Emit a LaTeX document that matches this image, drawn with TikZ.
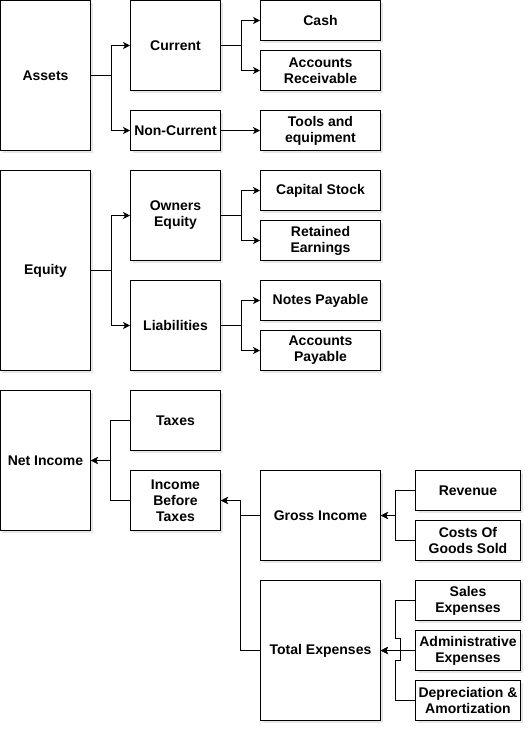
\documentclass[tikz,border=0pt]{standalone}
\usepackage{fontspec}
\setmainfont{Liberation Sans}
\usetikzlibrary{arrows.meta,shadows,positioning,calc}

\begin{document}
\begin{tikzpicture}[x=1pt,y=-1pt,
    box/.style={draw,line width=1pt,fill=white,align=center,inner sep=1pt,
        font=\fontsize{14}{16}\selectfont\bfseries,
        drop shadow={shadow xshift=2pt,shadow yshift=-2pt,opacity=0.2}},
    arr/.style={line width=1pt,-{Stealth[length=7pt,width=7pt,inset=2pt]}}]
            \useasboundingbox (-0.5,-0.5) rectangle (531.5,731.5);
            % assets
            \node[box,minimum width=90pt,minimum height=150pt] (assets) at (45,75) {Assets};
            \node[box,minimum width=90pt,minimum height=90pt] (current) at (175,45) {Current};
            \node[box,minimum width=90pt,minimum height=40pt] (noncur) at (175,130) {Non-Current};
            \node[box,minimum width=120pt,minimum height=40pt] (cash) at (320,20) {Cash};
            \node[box,minimum width=120pt,minimum height=40pt] (accrec) at (320,70) {Accounts\\Receivable};
            \node[box,minimum width=120pt,minimum height=40pt] (tools) at (320,130) {Tools and\\equipment};
            % equity
            \node[box,minimum width=90pt,minimum height=200pt] (equity) at (45,270) {Equity};
            \node[box,minimum width=90pt,minimum height=90pt] (owneq) at (175,215) {Owners\\Equity};
            \node[box,minimum width=90pt,minimum height=90pt] (liab) at (175,325) {Liabilities};
            \node[box,minimum width=120pt,minimum height=40pt] (capstock) at (320,190) {Capital Stock};
            \node[box,minimum width=120pt,minimum height=40pt] (retearn) at (320,240) {Retained\\Earnings};
            \node[box,minimum width=120pt,minimum height=40pt] (notespay) at (320,300) {Notes Payable};
            \node[box,minimum width=120pt,minimum height=40pt] (accpay) at (320,350) {Accounts\\Payable};
            % net income
            \node[box,minimum width=90pt,minimum height=140pt] (netinc) at (45,460) {Net Income};
            \node[box,minimum width=90pt,minimum height=60pt] (taxes) at (175,420) {Taxes};
            \node[box,minimum width=90pt,minimum height=60pt] (ibt) at (175,500) {Income\\Before\\Taxes};
            \node[box,minimum width=120pt,minimum height=90pt] (grossinc) at (320,515) {Gross Income};
            \node[box,minimum width=120pt,minimum height=140pt] (totexp) at (320,650) {Total Expenses};
            \node[box,minimum width=105pt,minimum height=40pt] (revenue) at (467.5,490) {Revenue};
            \node[box,minimum width=105pt,minimum height=40pt] (cogs) at (467.5,540) {Costs Of\\Goods Sold};
            \node[box,minimum width=105pt,minimum height=40pt] (salesexp) at (467.5,600) {Sales\\Expenses};
            \node[box,minimum width=105pt,minimum height=40pt] (adminexp) at (467.5,650) {Administrative\\Expenses};
            \node[box,minimum width=105pt,minimum height=40pt] (deprec) at (467.5,700) {Depreciation \&\\Amortization};

            \draw[arr] (assets.east) -- ++(20,0) |- (current.west);
            \draw[arr] (assets.east) -- ++(20,0) |- (noncur.west);
            \draw[arr] (current.east) -- ++(20,0) |- (cash.west);
            \draw[arr] (current.east) -- ++(20,0) |- (accrec.west);
            \draw[arr] (noncur) -- (tools);

            \draw[arr] (equity.east) -- ++(20,0) |- (owneq.west);
            \draw[arr] (equity.east) -- ++(20,0) |- (liab.west);
            \draw[arr] (owneq.east) -- ++(20,0) |- (capstock.west);
            \draw[arr] (owneq.east) -- ++(20,0) |- (retearn.west);
            \draw[arr] (liab.east) -- ++(20,0) |- (notespay.west);
            \draw[arr] (liab.east) -- ++(20,0) |- (accpay.west);

            \draw[arr] (taxes.west) -- ++(-20,0) |- (netinc.east);
            \draw[arr] (ibt.west) -- ++(-20,0) |- (netinc.east);
            \draw[arr] (grossinc.west) -- ++(-20,0) |- (ibt.east);
            \draw[arr] (totexp.west) -- ++(-20,0) |- (ibt.east);
            \draw[arr] (revenue.west) -- ++(-20,0) |- (grossinc.east);
            \draw[arr] (cogs.west) -- ++(-20,0) |- (grossinc.east);
            \draw[arr] (adminexp) -- (totexp);
            \draw[arr] (salesexp.west) -- ++(-20,0) -- ++(0,38) -- ++(5,0) -- ++(0,12) -- (totexp.east);
            \draw[arr] (deprec.west) -- ++(-20,0) -- ++(0,-40) -- ++(5,0) -- ++(0,-10) -- (totexp.east);
        \end{tikzpicture}
\end{document}
